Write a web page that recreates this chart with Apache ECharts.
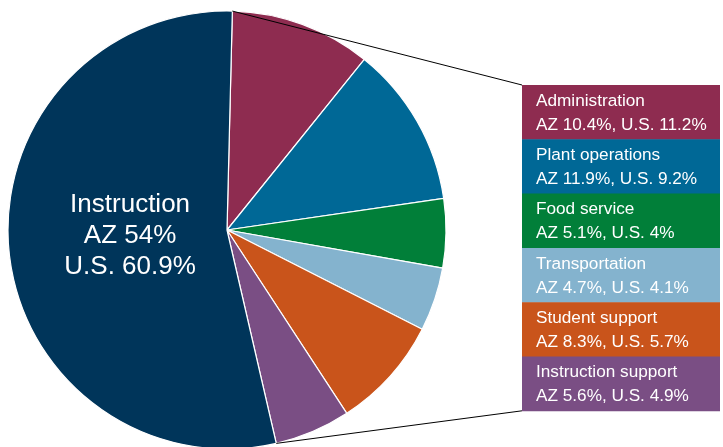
<!DOCTYPE html>
<html><head><meta charset="utf-8">
<script src="https://cdn.jsdelivr.net/npm/echarts@6/dist/echarts.min.js"></script>
<style>html,body{margin:0;padding:0;background:#fff}#c{width:723px;height:447px}</style>
</head><body><div id="c"></div>
<script>
const categories = ['Administration','Plant operations','Food service','Transportation','Student support','Instruction support','Instruction'];
const azValues = [10.4, 11.9, 5.1, 4.7, 8.3, 5.6, 54];
const usValues = [11.2, 9.2, 4, 4.1, 5.7, 4.9, 60.9];
const colors = ['#8e2c50','#006896','#017f39','#84b3ce','#c9541b','#7a4e84','#00355a'];

const CX = 227, CY = 230, R = 219, START = 88.6;
const BOX_X = 522, BOX_W = 198, BOX_TOP = 85, BOX_H = 54.3;
const FONT = '"Liberation Sans", Arial, sans-serif';

const chart = echarts.init(document.getElementById('c'), null, {renderer:'canvas'});

const data = categories.map((c,i)=>({
  name:c, value:azValues[i], itemStyle:{color:colors[i]},
  label: i===categories.length-1 ? {show:true} : {show:false}
}));

const graphics = [];
const nSmall = categories.length-1;
for (let i=0;i<nSmall;i++){
  const y = BOX_TOP + i*BOX_H;
  graphics.push({type:'rect', shape:{x:BOX_X, y:y, width:BOX_W, height:BOX_H+0.5}, style:{fill:colors[i]}, z:10});
  graphics.push({type:'text', x:BOX_X+14, y:y+BOX_H/2+1, z:11,
    style:{text:categories[i]+'\nAZ '+azValues[i]+'%, U.S. '+usValues[i]+'%', fill:'#fff',
      font:'17.2px '+FONT, lineHeight:24, verticalAlign:'middle', align:'left'}});
}
const total = azValues.reduce((a,b)=>a+b,0);
function edgePt(frac){
  const a = (START - frac*360)*Math.PI/180;
  return [CX + R*Math.cos(a), CY - R*Math.sin(a)];
}
let cum = 0; for (let i=0;i<nSmall;i++) cum += azValues[i];
const p0 = edgePt(0), p1 = edgePt(cum/total);
graphics.push({type:'line', shape:{x1:p0[0],y1:p0[1],x2:BOX_X,y2:BOX_TOP}, style:{stroke:'#000',lineWidth:1}, z:5});
graphics.push({type:'line', shape:{x1:p1[0],y1:p1[1],x2:BOX_X,y2:BOX_TOP+nSmall*BOX_H}, style:{stroke:'#000',lineWidth:1}, z:5});

chart.setOption({
  animation:false,
  series:[{
    type:'pie', center:[CX,CY], radius:R, startAngle:START, clockwise:true,
    avoidLabelOverlap:false, silent:true,
    itemStyle:{borderColor:'#fff', borderWidth:1.2},
    label:{position:'inside', color:'#fff', fontFamily:FONT, fontSize:26, lineHeight:31,
      offset:[15,-6],
      formatter:(p)=>p.name+'\nAZ '+azValues[p.dataIndex]+'%\nU.S. '+usValues[p.dataIndex]+'%'},
    labelLine:{show:false},
    data:data
  }],
  graphic:graphics
});
</script></body></html>
